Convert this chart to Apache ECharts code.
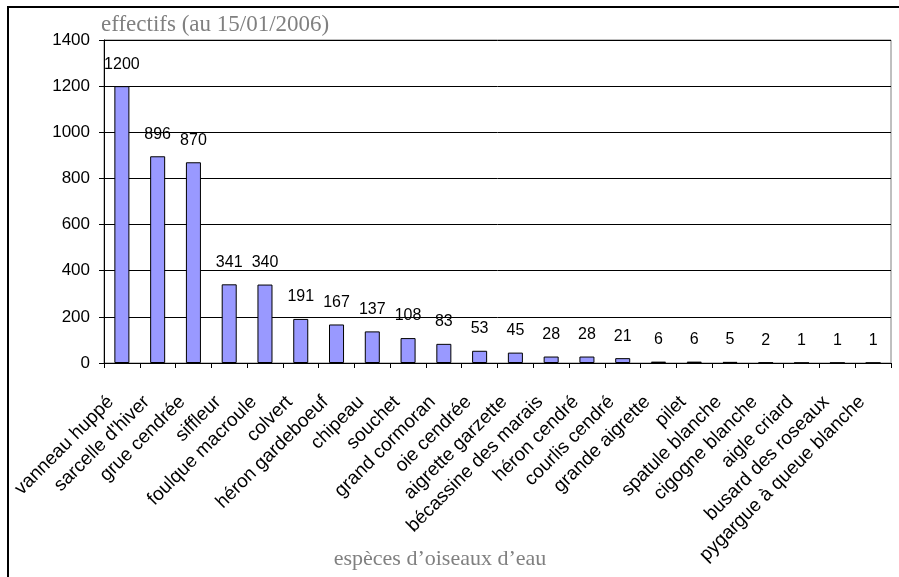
<!DOCTYPE html>
<html>
<head>
<meta charset="utf-8">
<script src="https://cdn.jsdelivr.net/npm/echarts@6/dist/echarts.min.js"></script>
<style>html,body{margin:0;padding:0;background:#fff}#c{width:899px;height:577px}</style>
</head>
<body>
<div id="c"></div>
<script>
var categories = ["vanneau huppé","sarcelle d'hiver","grue cendrée","siffleur","foulque macroule","colvert","héron gardeboeuf","chipeau","souchet","grand cormoran","oie cendrée","aigrette garzette","bécassine des marais","héron cendré","courlis cendré","grande aigrette","pilet","spatule blanche","cigogne blanche","aigle criard","busard des roseaux","pygargue à queue blanche"];
var values = [1200,896,870,341,340,191,167,137,108,83,53,45,28,28,21,6,6,5,2,1,1,1];
var yTicks = [0,200,400,600,800,1000,1200,1400];

var chart = echarts.init(document.getElementById('c'), null, {renderer:'canvas'});
chart.setOption({
  animation:false,
  backgroundColor:'#fff',
  title:[{
    text:'effectifs (au 15/01/2006)', left:96, top:8,
    textStyle:{fontFamily:'Liberation Serif', fontSize:23, fontWeight:'normal', color:'#808080'}
  },{
    text:'espèces d\u2019oiseaux d\u2019eau', left:435, top:543, textAlign:'center',
    textStyle:{fontFamily:'Liberation Serif', fontSize:22, fontWeight:'normal', color:'#808080'}
  }],
  graphic:[{type:'rect', shape:{x:8,y:7,width:1000,height:1000}, style:{fill:'none', stroke:'#000', lineWidth:2}, z:100}],
  grid:{left:104, right:8, top:40, bottom:214, show:true, borderColor:'#808080', borderWidth:1,
        containLabel:false, outerBoundsMode:'none'},
  xAxis:{
    type:'category', data:categories, boundaryGap:true,
    axisLine:{lineStyle:{color:'#000', width:1}},
    axisTick:{show:true, length:5, alignWithLabel:false, lineStyle:{color:'#000'}},
    axisLabel:{interval:0, rotate:45, fontFamily:'Liberation Sans', fontSize:19, color:'#000', margin:25,
      formatter:function(v){return v + '\u00a0\u00a0\u00a0';}}
  },
  yAxis:{
    type:'value', min:0, max:1400, interval:200,
    axisLine:{show:true, lineStyle:{color:'#000', width:1}},
    axisTick:{show:true, length:5, lineStyle:{color:'#000'}},
    axisLabel:{fontFamily:'Liberation Sans', fontSize:17, color:'#000', margin:14,
      formatter:function(v){return yTicks.indexOf(v)>=0?String(v):'';}},
    splitLine:{show:true, lineStyle:{color:'#000', width:1}}
  },
  series:[{
    type:'bar', data:values, barWidth:'42%',
    itemStyle:{color:'#9999FF', borderColor:'#000', borderWidth:1},
    label:{show:true, position:'top', distance:14, fontFamily:'Liberation Sans', fontSize:16, color:'#000'}
  }]
});
</script>
</body>
</html>
